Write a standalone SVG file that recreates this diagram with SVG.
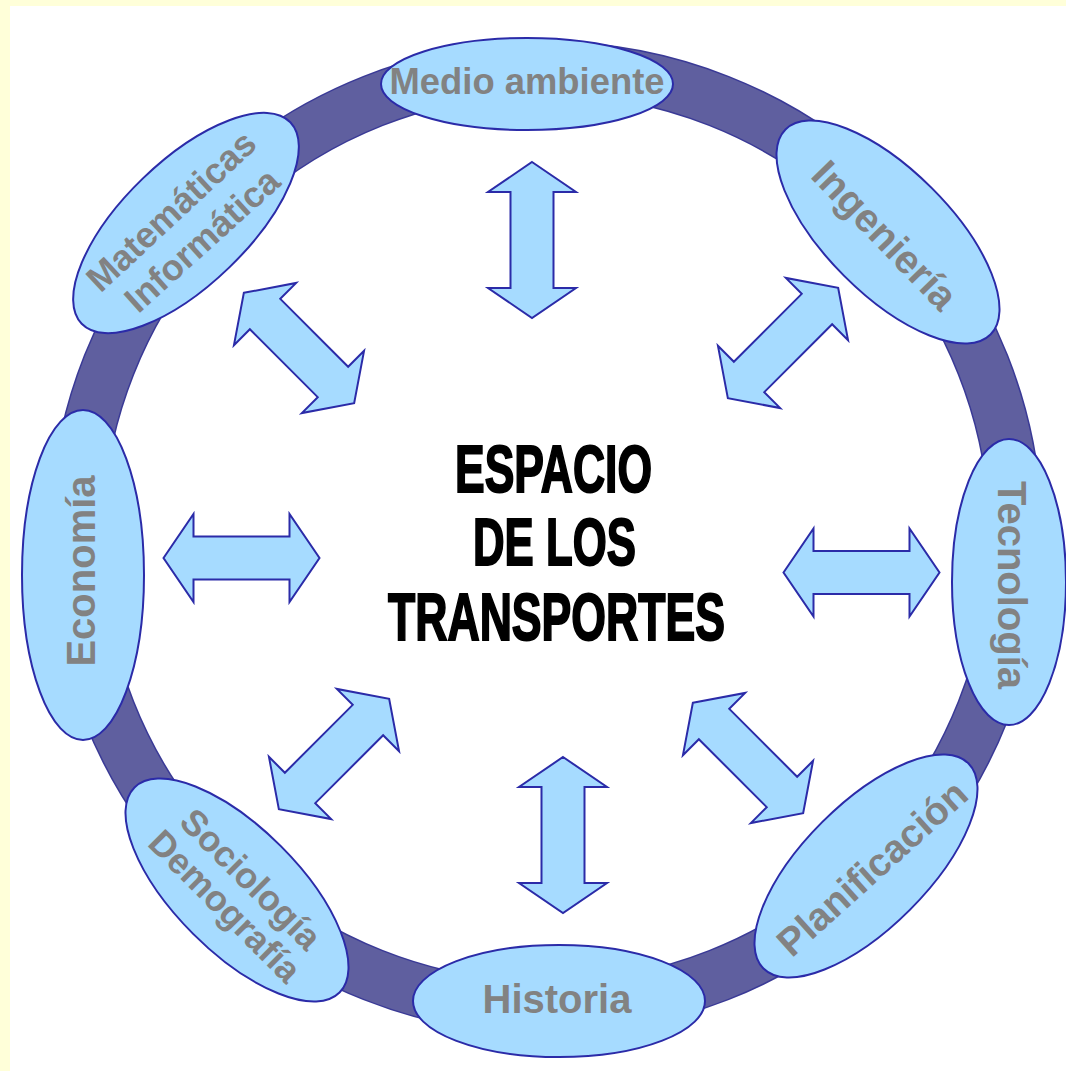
<svg xmlns="http://www.w3.org/2000/svg" xmlns:xlink="http://www.w3.org/1999/xlink" width="1066" height="1071" viewBox="0 0 1066 1071">
<style>
.node ellipse{fill:#a6dbff;stroke:#2b2ba8;stroke-width:2}
.node text{font-family:"Liberation Sans",Arial,sans-serif;font-weight:bold;fill:#828282;text-anchor:middle;dominant-baseline:central}
.arrow{fill:#a6dbff;stroke:#2b2ba8;stroke-width:2;stroke-linejoin:miter}
.title{font-family:"Liberation Sans",Arial,sans-serif;font-weight:bold;font-size:66px;text-anchor:middle;fill:#000;stroke:#000;stroke-width:2}
</style>
<defs>
<path id="arr" d="M -78,0 L -48,-44 L -48,-21.5 L 48,-21.5 L 48,-44 L 78,0 L 48,44 L 48,21.5 L -48,21.5 L -48,44 Z"/>
</defs>
<rect x="0" y="0" width="1066" height="1071" fill="#ffffd9"/>
<rect x="10" y="6" width="1056" height="1065" fill="#ffffff"/>
<g id="connectors">
<circle cx="546" cy="538" r="470" fill="none" stroke="#3a3a96" stroke-width="54"/>
<circle cx="546" cy="538" r="470" fill="none" stroke="#5f5f9f" stroke-width="51"/>
<use xlink:href="#arr" class="arrow" transform="translate(532,240) rotate(90)"/>
<use xlink:href="#arr" class="arrow" transform="translate(563,835) rotate(90)"/>
<use xlink:href="#arr" class="arrow" transform="translate(241.5,558)"/>
<use xlink:href="#arr" class="arrow" transform="translate(861.5,572.5)"/>
<use xlink:href="#arr" class="arrow" transform="translate(299,348) rotate(45)"/>
<use xlink:href="#arr" class="arrow" transform="translate(783,343) rotate(-45)"/>
<use xlink:href="#arr" class="arrow" transform="translate(334,754) rotate(-45)"/>
<use xlink:href="#arr" class="arrow" transform="translate(748,758) rotate(45)"/>
</g>
<g id="node-medio" class="node">
<ellipse cx="527" cy="84" rx="146" ry="46"/>
<text x="527" y="81" font-size="36" textLength="275" lengthAdjust="spacingAndGlyphs">Medio ambiente</text>
</g>
<g id="node-ingenieria" class="node">
<ellipse cx="0" cy="0" rx="145" ry="62" transform="translate(888,232) rotate(45)"/>
<text x="0" y="0" font-size="40" transform="translate(885,235) rotate(46)">Ingeniería</text>
</g>
<g id="node-tecnologia" class="node">
<ellipse cx="1009" cy="582" rx="57" ry="143"/>
<text x="0" y="0" font-size="40" transform="translate(1012,585) rotate(90)">Tecnología</text>
</g>
<g id="node-planificacion" class="node">
<ellipse cx="0" cy="0" rx="145" ry="62" transform="translate(866,866) rotate(-45)"/>
<text x="0" y="0" font-size="39" transform="translate(872,868) rotate(-42)">Planificación</text>
</g>
<g id="node-historia" class="node">
<ellipse cx="559" cy="1001" rx="146" ry="56"/>
<text x="557" y="999" font-size="40">Historia</text>
</g>
<g id="node-sociologia" class="node">
<ellipse cx="0" cy="0" rx="145" ry="62" transform="translate(237,890) rotate(45)"/>
<text x="0" y="0" font-size="36" transform="translate(251,879) rotate(45)">Sociología</text>
<text x="0" y="0" font-size="36" transform="translate(225,906) rotate(45)">Demografía</text>
</g>
<g id="node-economia" class="node">
<ellipse cx="83" cy="575" rx="61" ry="165"/>
<text x="0" y="0" font-size="40" transform="translate(81,571) rotate(-90)">Economía</text>
</g>
<g id="node-matematicas" class="node">
<ellipse cx="0" cy="0" rx="145" ry="62" transform="translate(186,223) rotate(-44)"/>
<text x="0" y="0" font-size="36" transform="translate(171,211) rotate(-43)">Matemáticas</text>
<text x="0" y="0" font-size="36" transform="translate(202,240) rotate(-42)">Informática</text>
</g>
<g id="center">
<text class="title" x="553.5" y="492" textLength="197" lengthAdjust="spacingAndGlyphs">ESPACIO</text>
<text class="title" x="554.5" y="565" textLength="163" lengthAdjust="spacingAndGlyphs">DE LOS</text>
<text class="title" x="556.5" y="640" textLength="337" lengthAdjust="spacingAndGlyphs">TRANSPORTES</text>
</g>
</svg>
